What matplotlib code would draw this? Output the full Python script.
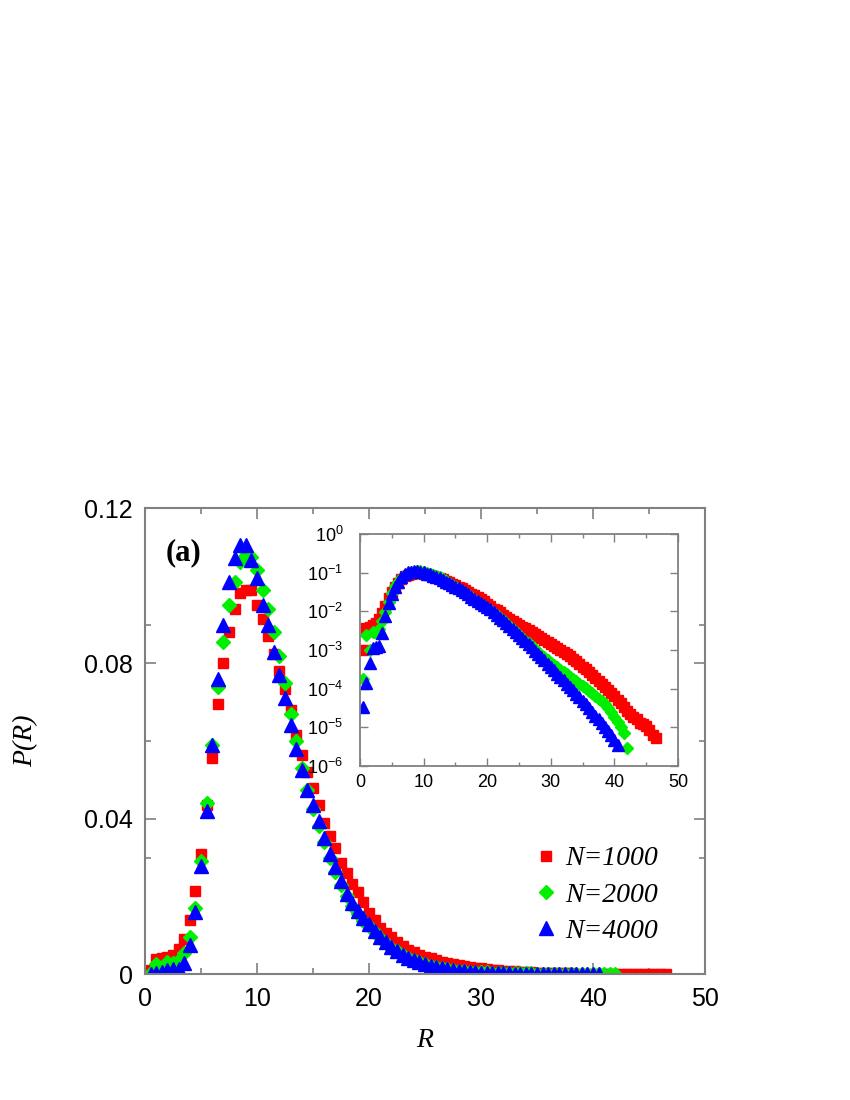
import numpy as np
import matplotlib.pyplot as plt
from matplotlib.ticker import MultipleLocator, FuncFormatter, LogLocator, NullLocator

# bin centres of R (same grid for every system size)
R_bins = np.arange(0.5, 46.75, 0.5)

P_1000 = [0.0010, 0.0038, 0.0040, 0.0045, 0.0050, 0.0065, 0.0090, 0.0140, 0.0215, 0.0310,
          0.0435, 0.0555, 0.0695, 0.0800, 0.0880, 0.0940, 0.0980, 0.0990, 0.0990, 0.0950,
          0.0915, 0.0870, 0.0825, 0.0780, 0.0735, 0.0680, 0.0615, 0.0565, 0.0520, 0.0480,
          0.0435, 0.0390, 0.0355, 0.0324, 0.0285, 0.0260, 0.0233, 0.0210, 0.0185, 0.0158,
          0.0138, 0.0118, 0.0106, 0.0095, 0.0082, 0.0071, 0.0063, 0.0057, 0.0050, 0.0044,
          0.0040, 0.0036, 0.0032, 0.0029, 0.0026, 0.0023, 0.00205, 0.00182, 0.00162, 0.00145,
          0.00128, 0.00114, 0.00100, 0.00089, 0.00078, 0.00068, 0.00059, 0.00051, 0.00044, 0.00037,
          0.00032, 0.00027, 0.00023, 0.00019, 0.00016, 0.000135, 0.000112, 0.000093, 0.000078, 0.000064,
          0.000052, 0.000042, 0.000034, 0.000027, 0.000022, 0.000018, 0.000016, 0.000013, 0.000012, 0.000011,
          0.0000085, 0.0000065, 0.0000052]

P_2000 = [0.00018, 0.0025, 0.0010, 0.0030, 0.0028, 0.0035, 0.0055, 0.0095, 0.0170, 0.0290,
          0.0440, 0.0590, 0.0740, 0.0855, 0.0950, 0.1010, 0.1060, 0.1080, 0.1075, 0.1040,
          0.0990, 0.0940, 0.0880, 0.0820, 0.0750, 0.0670, 0.0600, 0.0530, 0.0475, 0.0425,
          0.0380, 0.0340, 0.0300, 0.0263, 0.0230, 0.0200, 0.0175, 0.0155, 0.0137, 0.0123,
          0.0107, 0.0092, 0.0079, 0.0067, 0.0058, 0.0049, 0.0042, 0.0035, 0.0030, 0.0025,
          0.0021, 0.00176, 0.00148, 0.00124, 0.00104, 0.00088, 0.00075, 0.00064, 0.00055, 0.00047,
          0.00041, 0.000355, 0.00031, 0.00027, 0.000235, 0.000205, 0.000178, 0.000155, 0.000135, 0.000117,
          0.000102, 0.000088, 0.000076, 0.000065, 0.000055, 0.000047, 0.000039, 0.000032, 0.000025, 0.000019,
          0.000014, 0.000010, 0.0000070, 0.0000030]

P_4000 = [0.000034, 0.00014, 0.00045, 0.0011, 0.0012, 0.0013, 0.0028, 0.0075, 0.0160, 0.0278,
          0.0420, 0.0590, 0.0760, 0.0900, 0.1010, 0.1070, 0.1105, 0.1105, 0.1065, 0.1020,
          0.0950, 0.0900, 0.0830, 0.0770, 0.0710, 0.0640, 0.0580, 0.0525, 0.0475, 0.0435,
          0.0395, 0.0350, 0.0310, 0.0275, 0.0240, 0.0205, 0.0182, 0.0162, 0.0145, 0.0129,
          0.0112, 0.0096, 0.0082, 0.0069, 0.0059, 0.0050, 0.0042, 0.0035, 0.0030, 0.0025,
          0.0021, 0.00174, 0.00143, 0.00117, 0.00096, 0.00079, 0.00065, 0.00054, 0.00044, 0.00036,
          0.00030, 0.000245, 0.000200, 0.000166, 0.000136, 0.000112, 0.000091, 0.000074, 0.000060, 0.000049,
          0.000040, 0.000032, 0.000025, 0.000020, 0.000016, 0.0000126, 0.0000100, 0.0000079, 0.0000063, 0.0000048,
          0.0000035]

labels = ['N=1000', 'N=2000', 'N=4000']
series = [P_1000, P_2000, P_4000]
colors = ['#ff0000', '#00ee00', '#0000ff']
markers = ['s', 'D', '^']
sizes_main = [7.5, 7.0, 9.5]
sizes_inset = [6.5, 6.0, 8.0]

plt.rcParams['font.family'] = ['Liberation Sans', 'DejaVu Sans']
plt.rcParams['mathtext.default'] = 'regular'
frame_col = '#808080'

fig = plt.figure(figsize=(8.5, 11), dpi=100)

# main panel
ax = fig.add_axes([145/850, 1 - 974/1100, 560/850, 466/1100])
for P, lab, c, m, s in zip(series, labels, colors, markers, sizes_main):
    ax.plot(R_bins[:len(P)], P, linestyle='none', marker=m, ms=s, color=c, mec=c, label=lab)

ax.set_xlim(0, 50)
ax.set_ylim(0, 0.12)
ax.xaxis.set_major_locator(MultipleLocator(10))
ax.xaxis.set_minor_locator(MultipleLocator(5))
ax.yaxis.set_major_locator(MultipleLocator(0.04))
ax.yaxis.set_minor_locator(MultipleLocator(0.03))
ax.yaxis.set_major_formatter(FuncFormatter(lambda v, p: '0' if abs(v) < 1e-9 else f'{v:.2f}'))
ax.tick_params(which='both', direction='in', top=True, right=True, color=frame_col,
               labelsize=18, pad=9)
ax.tick_params(which='major', length=8, width=1.2)
ax.tick_params(which='minor', length=4, width=1.2)
for sp in ax.spines.values():
    sp.set_color(frame_col)
    sp.set_linewidth(1.5)

ax.set_xlabel('R', fontsize=20, family=['Liberation Serif'], style='italic')
ax.set_ylabel('P(R)', fontsize=20, family=['Liberation Serif'], style='italic')
ax.xaxis.set_label_coords(0.5, -0.115)
ax.yaxis.set_label_coords(-0.19, 0.5)

ax.text(0.036, 0.888, '(a)', transform=ax.transAxes, fontsize=22, fontweight='bold',
        family=['Liberation Serif'], va='baseline')

ax.legend(loc='upper left', bbox_to_anchor=(0.696, 0.275), frameon=False, borderpad=0,
          borderaxespad=0, handlelength=0.8, handletextpad=0.3, labelspacing=0.39,
          prop={'family': 'Liberation Serif', 'style': 'italic', 'size': 20})

# inset, log scale
axi = fig.add_axes([360/850, 1 - 766/1100, 318/850, 232/1100])
for P, c, m, s in zip(series, colors, markers, sizes_inset):
    axi.plot(R_bins[:len(P)], P, linestyle='none', marker=m, ms=s, color=c, mec=c)
axi.set_yscale('log')
axi.set_xlim(0, 50)
axi.set_ylim(1e-6, 1)
axi.xaxis.set_major_locator(MultipleLocator(10))
axi.xaxis.set_minor_locator(MultipleLocator(5))
axi.yaxis.set_major_locator(LogLocator(base=10, numticks=10))
axi.yaxis.set_minor_locator(NullLocator())
axi.tick_params(which='both', direction='in', top=True, right=True, color=frame_col, labelsize=13)
axi.tick_params(axis='x', pad=6)
axi.tick_params(axis='y', pad=12)
axi.tick_params(which='major', length=6, width=1.0)
axi.tick_params(which='minor', length=3, width=1.0)
for sp in axi.spines.values():
    sp.set_color(frame_col)
    sp.set_linewidth(1.3)

fig.savefig('out.png', dpi=100)
